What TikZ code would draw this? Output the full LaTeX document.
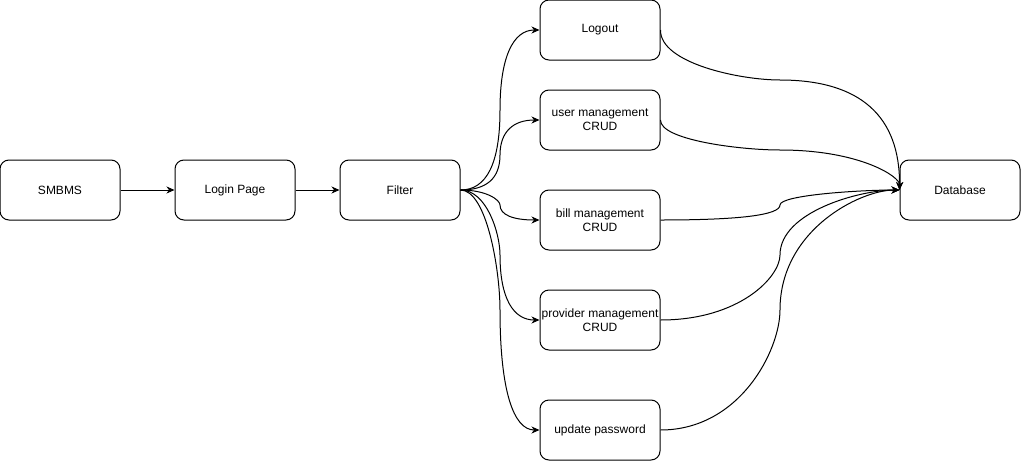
\documentclass[tikz,border=0pt]{standalone}
\usepackage{fontspec}
\setmainfont{Liberation Sans}
\usetikzlibrary{arrows.meta}
\begin{document}
\begin{tikzpicture}[x=1pt,y=-1pt,
  box/.style={draw,rounded corners=9pt,minimum width=120pt,minimum height=60pt,inner sep=0pt,align=center,line width=1pt,font=\fontsize{12}{14}\selectfont},
  conn/.style={line width=1pt,-{Stealth[length=8pt,width=7pt,inset=2.5pt]}}]
\useasboundingbox (0,0) rectangle (1021,461);
\node[box] (smbms) at (60,190) {SMBMS};
\node[box] (login) at (235,190) {Login Page};
\node[box] (filter) at (400,190) {Filter};
\node[box] (logout) at (600,30) {Logout};
\node[box] (user) at (600,120) {user management\\CRUD};
\node[box] (bill) at (600,220) {bill management\\CRUD};
\node[box] (provider) at (600,320) {provider management\\CRUD};
\node[box] (update) at (600,430) {update password};
\node[box] (db) at (960,190) {Database};
\draw[conn] (smbms) -- (login);
\draw[conn] (login) -- (filter);
% Filter to pages
\draw[conn] (filter.east) .. controls (486.7,190) and (500,163.3) .. (500,110) .. controls (500,56.7) and (513.3,30) .. (logout.west);
\draw[conn] (filter.east) .. controls (486.7,190) and (500,178.3) .. (500,155) .. controls (500,131.7) and (513.3,120) .. (user.west);
\draw[conn] (filter.east) .. controls (486.7,190) and (500,200) .. (500,205) .. controls (500,215) and (513.3,220) .. (bill.west);
\draw[conn] (filter.east) .. controls (486.7,190) and (500,233.3) .. (500,255) .. controls (500,298.3) and (513.3,320) .. (provider.west);
\draw[conn] (filter.east) .. controls (486.7,190) and (500,270) .. (500,310) .. controls (500,390) and (513.3,430) .. (update.west);
% pages to database
\draw[conn] (logout.east) .. controls (660,63.3) and (740,80) .. (780,80) .. controls (860,80) and (900,116) .. (db.west);
\draw[conn] (user.east) .. controls (660,140) and (740,150) .. (780,150) .. controls (860,150) and (900,176.7) .. (db.west);
\draw[conn] (bill.east) .. controls (740,220) and (780,215) .. (780,205) .. controls (780,195) and (860,190) .. (db.west);
\draw[conn] (provider.east) .. controls (740,320) and (780,276.7) .. (780,255) .. controls (780,211.7) and (860,190) .. (db.west);
\draw[conn] (update.east) .. controls (740,430) and (780,350) .. (780,310) .. controls (780,230) and (860,190) .. (db.west);
\end{tikzpicture}
\end{document}
